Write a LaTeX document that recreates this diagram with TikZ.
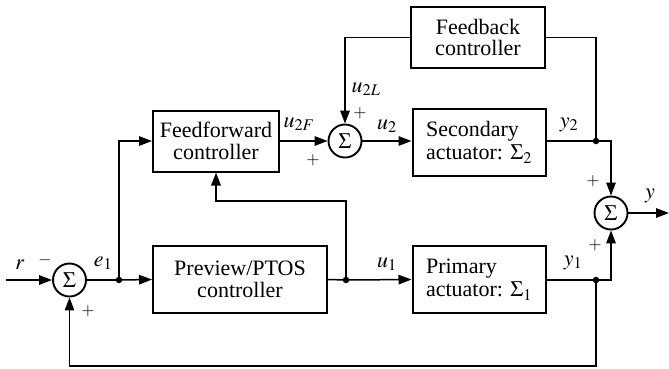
\documentclass[tikz,border=0pt]{standalone}
\usepackage{mathptmx}
\usepackage[no-math]{fontspec}
\setmainfont{Liberation Serif}
\usetikzlibrary{arrows.meta,calc}
\begin{document}
\begin{tikzpicture}[x=1pt,y=-1pt,
  blk/.style={draw,line width=2pt,inner sep=0pt,align=center,
    font=\fontsize{22}{21.5}\selectfont},
  blkl/.style={blk,align=left,font=\fontsize{22}{23.5}\selectfont},
  sumnode/.style={draw,circle,line width=1.9pt,minimum size=33pt,inner sep=0pt,
    font=\fontsize{22}{22}\selectfont},
  conn/.style={line width=1.5pt},
  arr/.style={conn,-{Triangle[length=13pt,width=9.5pt]}},
  jdot/.style={circle,fill=black,minimum size=6.5pt,inner sep=0pt},
  lbl/.style={inner sep=0pt,font=\fontsize{22}{22}\selectfont},
  sgn/.style={inner sep=0pt,font=\fontsize{17}{17}\selectfont}]
\useasboundingbox (0,0) rectangle (669,368);
% blocks
\node[blk,minimum width=134pt,minimum height=61pt] (fb) at (478,37.5) {Feedback\\controller};
\node[blk,minimum width=126pt,minimum height=61pt] (ff) at (216,141) {Feedforward\\controller};
\node[blkl,minimum width=133pt,minimum height=67pt] (sec) at (479,142) {Secondary\\actuator: $\Sigma_2$};
\node[blk,minimum width=174pt,minimum height=67pt] (prev) at (240,279.5) {Preview/PTOS\\controller};
\node[blkl,minimum width=133pt,minimum height=67pt] (prim) at (479,279.5) {Primary\\actuator: $\Sigma_1$};
% summing junctions
\node[sumnode] (s1) at (69.5,280) {$\Sigma$};
\node[sumnode] (s2) at (345,141) {$\Sigma$};
\node[sumnode] (s3) at (611,213) {$\Sigma$};
% junction dots
\node[jdot] (je) at (119,280) {};
\node[jdot] (ju) at (346,280) {};
\node[jdot] (jy2) at (596,141) {};
\node[jdot] (jy1) at (596,280) {};
\coordinate (rin) at (6,280);
\coordinate (yout) at (669,213);
\coordinate (c1) at (346,201);
\coordinate (c2) at (216,201);
\coordinate (c3) at (345,37.5);
\coordinate (c4) at (596,37.5);
\coordinate (c5) at (611,141);
\coordinate (c6) at (611,280);
\coordinate (c7) at (596,366);
\coordinate (c8) at (69.5,366);
% connectors
\draw[arr] (rin) -- (s1.west);
\draw[conn] (s1.east) -- (je.center);
\draw[arr] (je.center) -- (prev.west);
\draw[arr] (je.center) |- (ff.west);
\draw[conn] (prev.east) -- (ju.center);
\draw[arr] (ju.center) -- (prim.west);
\draw[arr] (ju.center) -- (c1) -- (c2) -- (ff.south);
\draw[arr] (ff.east) -- (s2.west);
\draw[arr] (s2.east) -- (sec.west |- s2.east);
\draw[arr] (fb.west |- c3) -- (c3) -- (s2.north);
\draw[conn] (fb.east |- c4) -- (c4) -- (jy2.center);
\draw[conn] (sec.east |- jy2) -- (jy2.center);
\draw[arr] (jy2.center) -- (c5) -- (s3.north);
\draw[conn] (prim.east |- jy1) -- (jy1.center);
\draw[arr] (jy1.center) -- (c6) -- (s3.south);
\draw[arr] (jy1.center) -- (c7) -- (c8) -- (s1.south);
\draw[arr] (s3.east) -- (yout);
% labels
\node[lbl] (lr) at (20,265) {$r$};
\node[sgn] (m1) at (45,260) {$-$};
\node[lbl] (le1) at (103,263) {$e_1$};
\node[sgn] (p1) at (88,311) {$+$};
\node[lbl] (lu2L) at (366,89) {$u_{2L}$};
\node[sgn] (p2) at (360,113) {$+$};
\node[lbl] (lu2F) at (299,124) {$u_{2F}$};
\node[sgn] (p3) at (313,160) {$+$};
\node[lbl] (lu2) at (387,126) {$u_2$};
\node[lbl] (lu1) at (387,264) {$u_1$};
\node[lbl] (ly2) at (569,125) {$y_2$};
\node[lbl] (ly1) at (573,263) {$y_1$};
\node[sgn] (p4) at (593,181) {$+$};
\node[sgn] (p5) at (595,245) {$+$};
\node[lbl] (ly) at (650,196) {$y$};
\end{tikzpicture}
\end{document}
